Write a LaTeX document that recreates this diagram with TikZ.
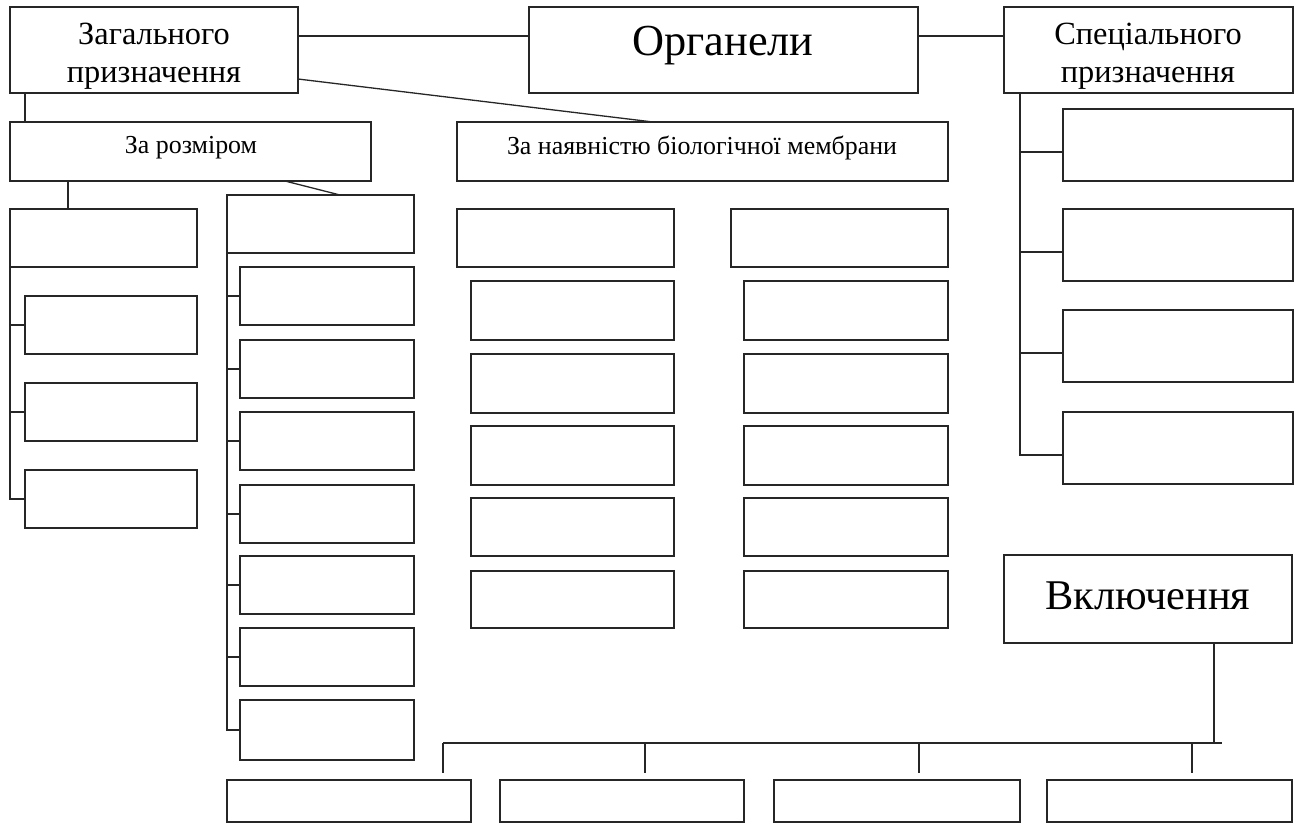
\documentclass[tikz,border=0pt]{standalone}
\usepackage{fontspec}
\setmainfont{Liberation Serif}
\newcommand\mkbox[5]{%
  \pgfmathsetmacro\bw{#4-#2}\pgfmathsetmacro\bh{#5-#3}%
  \node[box,minimum width=\bw bp,minimum height=\bh bp] (#1) at ({(#2+#4)/2},{(#3+#5)/2}) {};}
\begin{document}
\begin{tikzpicture}[x=1bp,y=-1bp,
  box/.style={draw=black!85, rectangle, inner sep=0pt, outer sep=0pt, line width=1.4bp},
  conn/.style={draw=black!85, line width=1.3bp},
  orgtxt/.style={inner sep=0pt, anchor=base, font=\fontsize{44.5}{50}\selectfont},
  incltxt/.style={inner sep=0pt, anchor=base, font=\fontsize{42.5}{50}\selectfont},
  midtxt/.style={inner sep=0pt, align=center, font=\fontsize{32.5}{38.5}\selectfont},
  smalltxt/.style={inner sep=0pt, anchor=base, font=\fontsize{26}{30}\selectfont}]
\useasboundingbox (0,0) rectangle (1302,823);

% top row
\mkbox{zag}{10}{7}{298}{93}
\mkbox{org}{529}{7}{918}{93}
\mkbox{spec}{1004}{7}{1293}{93}
% second row
\mkbox{rozm}{10}{122}{371}{181}
\mkbox{memb}{457}{122}{948}{181}
% left column
\mkbox{L0}{10}{209}{197}{267}
\mkbox{L1}{25}{296}{197}{354}
\mkbox{L2}{25}{383}{197}{441}
\mkbox{L3}{25}{470}{197}{528}
% second column
\mkbox{R0}{227}{195}{414}{253}
\mkbox{R1}{240}{267}{414}{325}
\mkbox{R2}{240}{340}{414}{398}
\mkbox{R3}{240}{412}{414}{470}
\mkbox{R4}{240}{485}{414}{543}
\mkbox{R5}{240}{556}{414}{614}
\mkbox{R6}{240}{628}{414}{686}
\mkbox{R7}{240}{700}{414}{760}
% membrane columns
\mkbox{MA0}{457}{209}{674}{267}
\mkbox{MB0}{731}{209}{948}{267}
\mkbox{MA1}{471}{281}{674}{340}
\mkbox{MA2}{471}{354}{674}{413}
\mkbox{MA3}{471}{426}{674}{485}
\mkbox{MA4}{471}{498}{674}{556}
\mkbox{MA5}{471}{571}{674}{628}
\mkbox{MB1}{744}{281}{948}{340}
\mkbox{MB2}{744}{354}{948}{413}
\mkbox{MB3}{744}{426}{948}{485}
\mkbox{MB4}{744}{498}{948}{556}
\mkbox{MB5}{744}{571}{948}{628}
% special column
\mkbox{S1}{1063}{109}{1293}{181}
\mkbox{S2}{1063}{209}{1293}{281}
\mkbox{S3}{1063}{310}{1293}{382}
\mkbox{S4}{1063}{412}{1293}{484}
% inclusions
\mkbox{incl}{1004}{555}{1292}{643}
\mkbox{B1}{227}{780}{471}{822}
\mkbox{B2}{500}{780}{744}{822}
\mkbox{B3}{774}{780}{1020}{822}
\mkbox{B4}{1047}{780}{1292}{822}

% texts
\node[midtxt] (zagt) at (154,56) {Загального\\призначення};
\node[orgtxt] (orgt) at (723,55) {Органели};
\node[midtxt] (spect) at (1148,56) {Спеціального\\призначення};
\node[smalltxt] (rozmt) at (191,153) {За розміром};
\node[smalltxt] (membt) at (702,154) {За наявністю біологічної мембрани};
\node[incltxt] (inclt) at (1148,609) {Включення};

% connectors top
\draw[conn] (zag.east |- 0,36) -- (org.west |- 0,36);
\draw[conn] (org.east |- 0,36) -- (spec.west |- 0,36);
\draw[conn] (zag.east |- 0,79) -- (memb.north -| 653,0);
\draw[conn] (zag.south -| 25,0) -- (rozm.north -| 25,0);
\draw[conn] (rozm.south -| 68,0) -- (L0.north -| 68,0);
\draw[conn] (rozm.south -| 285,0) -- (R0.north -| 340,0);
% left column
\draw[conn] (L0.south west) |- (L3.west);
\draw[conn] (L0.south west |- L1.west) -- (L1.west);
\draw[conn] (L0.south west |- L2.west) -- (L2.west);
% second column
\draw[conn] (R0.south west) |- (R7.west);
\foreach \i in {1,...,6} {\draw[conn] (R0.south west |- R\i.west) -- (R\i.west);}
% special column
\path (spec.south west) ++(16,0) coordinate (sv);
\foreach \i in {1,...,4} {\coordinate (sc\i) at ([yshift=-7bp]S\i.west);}
\draw[conn] (sv) |- (sc4);
\foreach \i in {1,2,3} {\draw[conn] (sv |- sc\i) -- (sc\i);}
% inclusions bus
\coordinate (busL) at (443,743);
\coordinate (busR) at (1222,743);
\coordinate (d1) at (443,743);
\coordinate (d2) at (645,743);
\coordinate (d3) at (919,743);
\coordinate (d4) at (1192,743);
\draw[conn] (busL) -- (busR);
\draw[conn] (incl.south -| 1214,0) -- (busR -| 1214,0);
\foreach \i in {1,...,4} {
  \coordinate (bt\i) at ([yshift=7bp]B\i.north);
  \draw[conn] (d\i) -- (d\i |- bt\i);
}
\end{tikzpicture}
\end{document}
